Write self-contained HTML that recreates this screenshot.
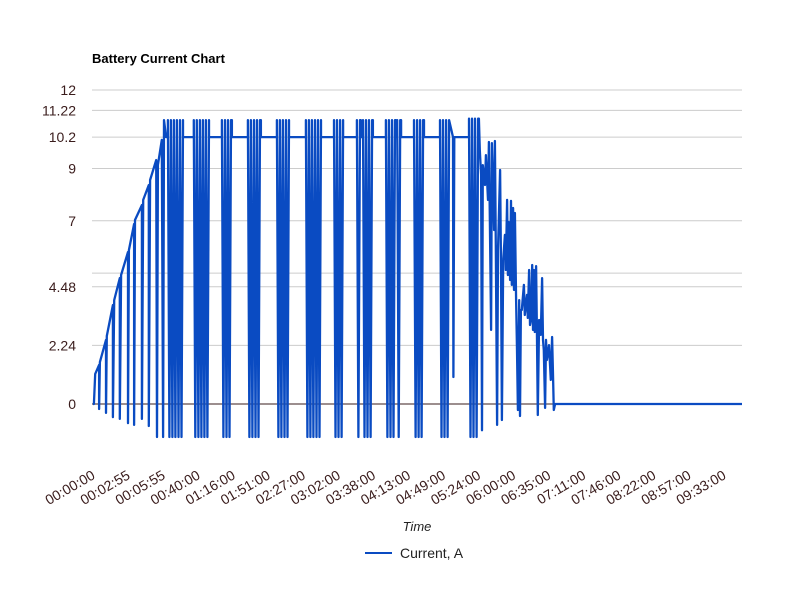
<!DOCTYPE html>
<html><head><meta charset="utf-8"><style>
body{margin:0;background:#fff;}
svg{display:block;font-family:"Liberation Sans",Arial,sans-serif;}
</style></head><body>
<svg width="800" height="591" viewBox="0 0 800 591">
<rect width="800" height="591" fill="#fff"/>
<text x="92" y="63" font-size="13" font-weight="bold" fill="#000">Battery Current Chart</text>
<g id="grid"></g>
<g id="xlabels"></g>
<path id="series" fill="none" stroke="#0a4bc2" stroke-width="2.3" stroke-linejoin="round"/>
<text x="417" y="531" font-size="13" font-style="italic" fill="#222" text-anchor="middle">Time</text>
<g>
<line x1="365" y1="553" x2="392" y2="553" stroke="#0a4bc2" stroke-width="2"/>
<text x="400" y="558" font-size="14" fill="#222">Current, A</text>
</g>
</svg>
<script>
const yTicks=[0,2.24,4.48,5,7,9,10.2,11.22,12];
const yTickLabels=["0","2.24","4.48","","7","9","10.2","11.22","12"];
const xLabels=["00:00:00","00:02:55","00:05:55","00:40:00","01:16:00","01:51:00","02:27:00","03:02:00","03:38:00","04:13:00","04:49:00","05:24:00","06:00:00","06:35:00","07:11:00","07:46:00","08:22:00","08:57:00","09:33:00"];
const rampT=[0,.02,.05,.14,.14,.16,.30,.30,.32,.46,.46,.49,.62,.62,.65,.81,.81,.83,.95,.95,.97,1.13,1.13,1.16,1.29,1.29,1.32,1.46,1.48,1.50,1.59,1.62,1.64,1.69];
const rampV=[0,0,1.15,1.49,-.19,1.6,2.45,-.34,2.6,3.78,-.5,3.97,4.81,-.57,4.93,5.81,-.73,5.88,6.88,-.8,7.03,7.6,-.57,7.8,8.37,-.84,8.56,9.32,-1.26,9.13,10.09,-1.26,10.85,10.2];
const baseline=10.2;
const blockStart=[1.73,2.33,2.98,3.58,4.25,4.92,5.57,6.10,6.24,6.77,7.03,7.42,8.02,8.69];
const blockEnd=[2.08,2.68,3.21,3.88,4.53,5.27,5.78,6.19,6.47,7.00,7.12,7.65,8.23,8.92];
const blockHigh=[10.85,10.85,10.85,10.85,10.85,10.85,10.85,10.85,10.85,10.85,10.85,10.85,10.85,10.9];
const blockLow=[-1.26,-1.26,-1.26,-1.26,-1.26,-1.26,-1.26,-1.26,-1.26,-1.26,-1.26,-1.26,-1.26,-1.26];
const spikeT=[8.32,8.33,8.35];
const spikeV=[10.2,1.03,10.2];
const tailT=[8.94,8.97,8.99,9.01,9.06,9.08,9.13,9.15,9.17,9.20,9.22,9.27,9.29,9.31,9.34,9.36,9.41,9.43,9.45,9.48,9.52,9.54,9.57,9.59,9.61,9.64,9.66,9.68,9.71,9.73,9.75,9.78,9.80,9.82,9.85,9.87,9.89,9.91,9.96,9.98,10.03,10.05,10.08,10.10,10.12,10.15,10.17,10.19,10.21,10.24,10.26,10.28,10.31,10.35,10.38,10.40,10.42,10.45,10.47,10.49,10.54,10.58,10.61,10.63,10.65,10.68,15];
const tailV=[9.71,8.75,-1.0,9.13,8.37,9.51,7.8,10.01,7.22,2.83,9.97,6.65,10.05,6.08,-.8,5.88,8.94,5.31,-.61,5.5,6.46,5.12,7.8,4.93,6.95,4.74,7.76,4.55,7.49,4.36,7.3,3.97,2.06,-.23,3.97,-.46,3.59,3.59,4.55,3.4,4.17,3.29,5.12,3.02,3.21,5.31,2.83,5.12,2.75,5.27,2.83,-.42,3.21,2.64,4.81,2.45,2.06,-.15,2.45,1.68,2.25,.92,2.56,1.3,-.23,0,0];

const X0=93,X1=742,Y0=404,PX=26.17;
const xs=t=>X0+t*(X1-X0)/15;
const ys=v=>Y0-v*PX;
const NS="http://www.w3.org/2000/svg";
const grid=document.getElementById('grid');
yTicks.forEach((v,i)=>{
 const l=document.createElementNS(NS,'line');
 
 
 l.setAttribute('x1',92);l.setAttribute('x2',742);
 l.setAttribute('y1',ys(v));l.setAttribute('y2',ys(v));
 l.setAttribute('stroke',v===0?'#3a1c1c':'#cccccc');l.setAttribute('stroke-width',1);
 grid.appendChild(l);
 if(yTickLabels[i]){
  const t=document.createElementNS(NS,'text');
  
  
  t.setAttribute('x',76);t.setAttribute('y',ys(v)+5);
  t.setAttribute('text-anchor','end');t.setAttribute('font-size','14');t.setAttribute('fill','#3a1c1c');
  t.textContent=yTickLabels[i];grid.appendChild(t);
 }
});
const xl=document.getElementById('xlabels');
const n=xLabels.length;
xLabels.forEach((s,i)=>{
 const x=96+i*(727-96)/(n-1);
 const t=document.createElementNS(NS,'text');
 
 
 t.setAttribute('x',x);t.setAttribute('y',478);
 t.setAttribute('text-anchor','end');t.setAttribute('font-size','14');t.setAttribute('fill','#3a1c1c');
 t.setAttribute('transform','rotate(-30 '+x+' 478)');
 t.textContent=s;xl.appendChild(t);
});
let pts=[];
rampT.forEach((t,i)=>pts.push([t,rampV[i]]));
blockStart.forEach((s,b)=>{
 pts.push([s,baseline]);
 const step=0.035;let hi=true;
 for(let t=s;t<=blockEnd[b];t+=step){pts.push([t,hi?blockHigh[b]:blockLow[b]]);hi=!hi;}
 pts.push([blockEnd[b],blockHigh[b]]);
 if(b===blockStart.length-2){spikeT.forEach((t,i)=>pts.push([t,spikeV[i]]));}
 else if(b<blockStart.length-1)pts.push([blockEnd[b],baseline]);
});
tailT.forEach((t,i)=>pts.push([t,tailV[i]]));
document.getElementById('series').setAttribute('d',pts.map((p,i)=>(i?'L':'M')+xs(p[0]).toFixed(1)+' '+ys(p[1]).toFixed(1)).join(''));
</script>
</body></html>
